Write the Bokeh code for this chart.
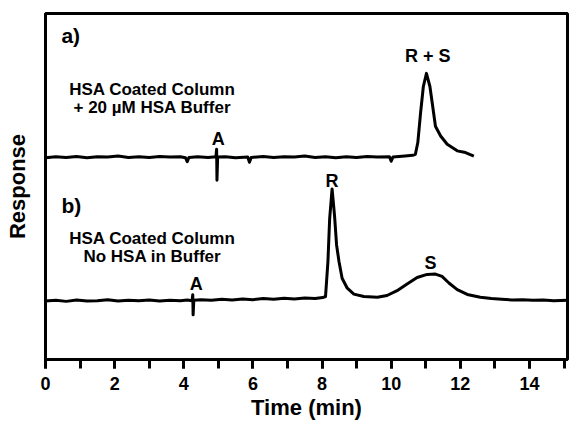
from bokeh.plotting import figure
from bokeh.models import Range1d, SingleIntervalTicker, FixedTicker
from bokeh.core.properties import value
from bokeh.embed import file_html
from bokeh.resources import INLINE

# Chromatogram a): HSA coated column, 20 uM HSA in the running buffer
time_a = [0.0, 0.3, 0.6, 0.9, 1.2, 1.5, 1.8, 2.1, 2.4, 2.7, 3.0, 3.3, 3.6, 3.9,
          4.05, 4.1, 4.15, 4.4, 4.7, 4.93, 4.95, 4.96, 4.98, 5.2, 5.5, 5.85, 5.9,
          5.95, 6.3, 6.6, 6.9, 7.2, 7.5, 7.8, 8.1, 8.4, 8.7, 9.0, 9.3, 9.6, 9.95,
          10.0, 10.05, 10.4, 10.62, 10.70, 10.77, 10.85, 10.93, 11.02, 11.12,
          11.20, 11.28, 11.43, 11.62, 11.91, 12.15, 12.39]
resp_a = [58.3, 58.6, 58.4, 58.7, 58.3, 58.6, 58.5, 58.8, 58.4, 58.6, 58.4, 58.7, 58.5, 58.6,
          58.3, 57.2, 58.4, 58.6, 58.4, 58.6, 60.8, 51.8, 58.5, 58.6, 58.3, 58.5, 57.0,
          58.4, 58.7, 58.4, 58.6, 58.5, 58.8, 58.4, 58.6, 58.3, 58.6, 58.4, 58.7, 58.5, 58.6,
          57.3, 58.5, 58.8, 59.0, 59.3, 62.7, 71.3, 78.9, 82.7, 78.9,
          73.2, 67.4, 64.6, 62.2, 60.3, 59.8, 58.8]

# Chromatogram b): HSA coated column, no HSA in the running buffer
time_b = [0.0, 0.3, 0.6, 0.9, 1.2, 1.5, 1.8, 2.1, 2.4, 2.7, 3.0, 3.3, 3.6, 3.9,
          4.1, 4.24, 4.26, 4.27, 4.29, 4.5, 4.8, 5.1, 5.4, 5.7, 6.0, 6.3, 6.6, 6.9,
          7.2, 7.5, 7.8, 8.02, 8.10, 8.17, 8.22, 8.29, 8.36, 8.42, 8.49, 8.58, 8.73,
          8.92, 9.21, 9.60, 9.88, 10.17, 10.46, 10.75, 11.04, 11.28, 11.47, 11.67,
          11.91, 12.20, 12.58, 12.9, 13.2, 13.5, 13.8, 14.1, 14.4, 14.7, 15.1]
resp_b = [16.9, 17.1, 16.8, 17.2, 16.9, 17.0, 17.3, 16.9, 17.1, 17.0, 17.2, 16.9, 17.1, 17.0,
          17.2, 17.0, 18.7, 12.9, 17.1, 17.3, 17.1, 17.4, 17.2, 17.5, 17.3, 17.6, 17.4, 17.7,
          17.5, 17.8, 17.6, 17.9, 18.2, 28.3, 40.7, 49.3, 41.7, 33.1, 28.3, 23.5, 20.6,
          18.9, 18.2, 18.0, 18.5, 19.9, 21.8, 23.7, 24.6, 24.7, 24.0, 22.1,
          20.2, 18.8, 18.0, 17.6, 17.4, 17.2, 17.3, 17.1, 17.2, 17.0, 17.1]

# Peak and panel annotations
peak_labels = ["A", "R + S", "A", "R", "S"]
peak_x = [5.0, 11.06, 4.36, 8.29, 11.14]
peak_y = [63.6, 87.8, 21.8, 51.7, 27.9]

panel_labels = ["a)", "b)"]
panel_x = [0.46, 0.46]
panel_y = [93.6, 44.6]

cond_labels = ["HSA Coated Column", "+ 20 \u00b5M HSA Buffer",
               "HSA Coated Column", "No HSA in Buffer"]
cond_x = [3.09, 3.09, 3.09, 3.09]
cond_y = [77.9, 72.7, 35.0, 29.8]

FONT = "Liberation Sans"

p = figure(width=572, height=422, output_backend="svg", toolbar_location=None,
           x_range=Range1d(0, 15.1), y_range=Range1d(0, 100),
           min_border_left=45, min_border_right=5, min_border_top=13,
           min_border_bottom=60)
p.grid.visible = False
p.outline_line_color = "black"
p.outline_line_width = 3

# x axis: labelled every 2 min, unlabelled ticks in between
xa = p.xaxis[0]
xa.ticker = SingleIntervalTicker(interval=2, num_minor_ticks=2)
xa.axis_label = "Time (min)"
xa.axis_label_text_font = FONT
xa.axis_label_text_font_size = "22px"
xa.axis_label_text_font_style = "bold"
xa.axis_label_text_color = "black"
xa.axis_label_standoff = 2
xa.major_label_text_font = FONT
xa.major_label_text_font_size = "18px"
xa.major_label_text_font_style = "bold"
xa.major_label_text_color = "black"
xa.major_label_standoff = 8
xa.axis_line_width = 3
xa.axis_line_color = "black"
xa.major_tick_in = 0
xa.major_tick_out = 9
xa.minor_tick_in = 0
xa.minor_tick_out = 9
xa.major_tick_line_width = 3
xa.minor_tick_line_width = 3
xa.major_tick_line_color = "black"
xa.minor_tick_line_color = "black"

# y axis: label only
ya = p.yaxis[0]
ya.ticker = FixedTicker(ticks=[])
ya.axis_label = "Response"
ya.axis_label_text_font = FONT
ya.axis_label_text_font_size = "22px"
ya.axis_label_text_font_style = "bold"
ya.axis_label_text_color = "black"
ya.axis_label_standoff = 16
ya.major_label_text_font_size = "0px"
ya.major_tick_out = 0
ya.minor_tick_out = 0
ya.axis_line_width = 3
ya.axis_line_color = "black"

p.line(time_a, resp_a, line_color="black", line_width=3, line_join="round")
p.line(time_b, resp_b, line_color="black", line_width=3, line_join="round")

p.text(peak_x, peak_y, text=peak_labels, text_font=value(FONT),
       text_font_size="18px", text_font_style="bold", text_align="center",
       text_baseline="middle", text_color="black")
p.text(panel_x, panel_y, text=panel_labels, text_font=value(FONT),
       text_font_size="21px", text_font_style="bold", text_align="left",
       text_baseline="middle", text_color="black")
p.text(cond_x, cond_y, text=cond_labels, text_font=value(FONT),
       text_font_size="17px", text_font_style="bold", text_align="center",
       text_baseline="middle", text_color="black")

open("out.html", "w").write(file_html(p, INLINE))
